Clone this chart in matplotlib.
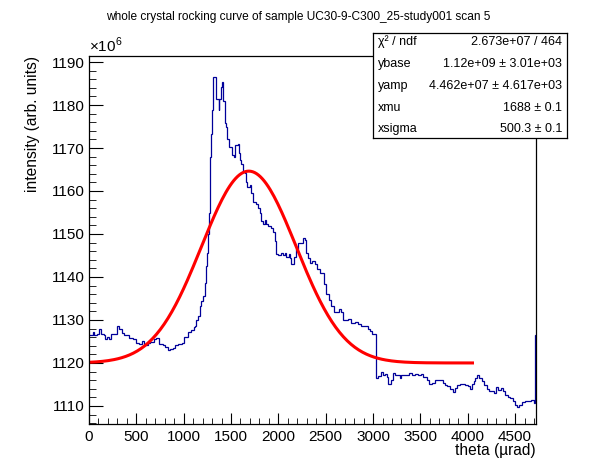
import numpy as np
import matplotlib; matplotlib.use('Agg')
import matplotlib.pyplot as plt
from matplotlib.ticker import MultipleLocator

plt.rcParams['font.family'] = ['Liberation Sans', 'DejaVu Sans']
plt.rcParams['mathtext.fontset'] = 'custom'
plt.rcParams['mathtext.rm'] = 'Liberation Sans'

# histogram: left bin edges (urad) and content (x1e6)
theta = [0, 38, 56, 84, 109, 126, 154, 168, 190, 214, 232, 267, 292, 320, 345, 373, 401, 426,
         461, 496, 531, 556, 584, 619, 648, 683, 707, 743, 778, 806, 831, 859, 884, 908, 944,
         979, 1007, 1042, 1077, 1106, 1116, 1134, 1151, 1169, 1186, 1204, 1222, 1240, 1250,
         1257, 1264, 1275, 1284, 1293, 1299, 1310, 1328, 1338, 1362, 1370, 1376, 1391, 1400,
         1410, 1415, 1433, 1451, 1462, 1476, 1497, 1510, 1532, 1546, 1567, 1574, 1581, 1592,
         1610, 1627, 1645, 1663, 1673, 1698, 1716, 1733, 1760, 1785, 1803, 1821, 1839, 1856,
         1873, 1891, 1920, 1944, 1962, 1980, 2000, 2025, 2045, 2065, 2085, 2110, 2125, 2138,
         2165, 2191, 2210, 2237, 2261, 2285, 2297, 2315, 2332, 2360, 2385, 2410, 2438, 2465,
         2483, 2508, 2535, 2561, 2589, 2615, 2638, 2660, 2684, 2710, 2737, 2770, 2808, 2845,
         2878, 2910, 2942, 2965, 2990, 3026, 3055, 3079, 3100, 3125, 3145, 3160, 3185, 3206,
         3230, 3255, 3283, 3300, 3318, 3350, 3381, 3410, 3442, 3475, 3502, 3529, 3565, 3593,
         3625, 3653, 3688, 3720, 3740, 3759, 3785, 3811, 3840, 3865, 3889, 3920, 3946, 3975,
         4000, 4023, 4041, 4065, 4082, 4100, 4120, 4147, 4175, 4200, 4225, 4252, 4275, 4298,
         4320, 4347, 4370, 4393, 4420, 4446, 4475, 4499, 4517, 4540, 4570, 4600, 4640, 4670,
         4695, 4711]
counts = [1126.6, 1127.2, 1126.6, 1126.8, 1127.9, 1126.8, 1126.4, 1125.6, 1126.0, 1125.6,
          1126.8, 1126.7, 1128.5, 1127.9, 1127.0, 1126.6, 1126.4, 1125.8, 1125.6, 1124.6,
          1124.5, 1125.0, 1124.2, 1124.6, 1124.9, 1125.6, 1125.9, 1124.5, 1124.1, 1123.7,
          1123.1, 1123.3, 1123.5, 1124.2, 1124.5, 1124.7, 1126.0, 1127.3, 1127.6, 1128.3,
          1128.6, 1129.9, 1131.0, 1133.3, 1134.5, 1135.6, 1138.7, 1142.6, 1145.6, 1150.0,
          1154.9, 1168.0, 1171.0, 1173.3, 1178.8, 1186.6, 1186.4, 1181.4, 1181.4, 1178.8,
          1181.4, 1184.1, 1185.3, 1183.5, 1181.0, 1175.7, 1175.0, 1172.2, 1170.3, 1170.3,
          1168.4, 1168.0, 1170.7, 1170.7, 1171.0, 1168.8, 1167.2, 1166.3, 1164.5, 1164.1,
          1162.0, 1161.0, 1161.4, 1159.5, 1157.4, 1157.0, 1156.0, 1154.8, 1153.0, 1152.4,
          1153.2, 1152.4, 1151.8, 1151.4, 1150.4, 1148.3, 1145.3, 1145.0, 1145.6, 1145.0,
          1145.6, 1144.6, 1145.3, 1144.5, 1143.0, 1144.6, 1146.4, 1147.9, 1147.9, 1149.1,
          1148.6, 1145.6, 1144.3, 1143.3, 1143.6, 1143.0, 1141.8, 1141.0, 1141.0, 1138.3,
          1136.0, 1134.6, 1133.3, 1131.8, 1131.8, 1132.6, 1131.8, 1129.9, 1129.9, 1130.3,
          1129.4, 1129.5, 1129.0, 1128.6, 1128.6, 1127.9, 1127.4, 1126.8, 1116.4, 1117.0,
          1117.9, 1117.2, 1117.5, 1116.8, 1115.2, 1116.0, 1117.7, 1117.2, 1117.2, 1116.4,
          1117.2, 1117.3, 1117.2, 1117.7, 1117.2, 1117.5, 1117.2, 1117.5, 1116.7, 1116.0,
          1115.2, 1115.4, 1116.0, 1116.1, 1116.0, 1115.4, 1114.8, 1114.6, 1113.9, 1113.3,
          1114.1, 1114.8, 1115.0, 1115.2, 1114.8, 1114.6, 1113.9, 1115.2, 1115.8, 1116.4,
          1117.2, 1116.6, 1115.8, 1114.8, 1113.9, 1113.4, 1113.4, 1113.0, 1114.3, 1113.8,
          1114.1, 1113.4, 1112.5, 1112.1, 1111.9, 1111.1, 1110.2, 1109.8, 1110.2, 1110.9,
          1111.1, 1111.1, 1111.4, 1110.8, 1126.4]
theta_end = 4740

# gaussian fit parameters from the stats box
ybase, yamp, xmu, xsigma = 1.12e9, 4.462e7, 1688.0, 500.3
fit_lo, fit_hi = 0, 4050
stats = [('\u03c7\u00b2 / ndf', '2.673e+07 / 464'),
         ('ybase', '1.12e+09 \u00b1 3.01e+03'),
         ('yamp', '4.462e+07 \u00b1 4.617e+03'),
         ('xmu', '1688 \u00b1 0.1'),
         ('xsigma', '500.3 \u00b1 0.1')]

W, H = 596, 472
fig = plt.figure(figsize=(W/100, H/100), dpi=100)
ax = fig.add_axes([89/W, 1-424/H, (536-89)/W, (424-56)/H])

edges = np.array(theta + [theta_end], dtype=float)
ax.stairs(np.array(counts), edges, baseline=None, color='#000099', lw=0.9)

xf = np.linspace(fit_lo, fit_hi, 200)
yf = (ybase + yamp*np.exp(-0.5*((xf - xmu)/xsigma)**2)) / 1e6
ax.plot(xf, yf, color='#ff0000', lw=2.2)

ax.set_xlim(0, 4721)
ax.set_ylim(1105.8, 1191.4)
ax.xaxis.set_major_locator(MultipleLocator(500))
ax.xaxis.set_minor_locator(MultipleLocator(100))
ax.yaxis.set_major_locator(MultipleLocator(10))
ax.yaxis.set_minor_locator(MultipleLocator(2))
ax.tick_params(axis='both', which='both', direction='in', top=False, right=False, labelsize=11)
ax.tick_params(axis='x', which='major', length=8, pad=4)
ax.tick_params(axis='x', which='minor', length=4)
ax.tick_params(axis='y', which='major', length=10, pad=3)
ax.tick_params(axis='y', which='minor', length=5)
for s in ax.spines.values():
    s.set_linewidth(0.9)

fig.text(89/W, 1-55/H, r'$\times10^{6}$', fontsize=11, ha='left', va='bottom')
fig.text(298/W, 1-17/H, 'whole crystal rocking curve of sample UC30-9-C300_25-study001 scan 5',
         fontsize=8.6, ha='center', va='center')
fig.text(33/W, 1-56/H, 'intensity (arb. units)', fontsize=11.2, rotation=90, ha='center', va='top')
fig.text(536/W, 1-450/H, 'theta (\u00b5rad)', fontsize=11.2, ha='right', va='center')

# stats box
bx0, by0, bx1, by1 = 373, 33, 567, 138
box = fig.add_axes([bx0/W, 1-by1/H, (bx1-bx0)/W, (by1-by0)/H])
box.set_xticks([]); box.set_yticks([])
box.set_facecolor('white')
for s in box.spines.values():
    s.set_linewidth(0.9)
rows_y = [42, 64, 86, 108, 129]
for (lab, val), ry in zip(stats, rows_y):
    fig.text(378/W, 1-ry/H, lab, fontsize=9, ha='left', va='center')
    fig.text(562/W, 1-ry/H, val, fontsize=9, ha='right', va='center')

fig.savefig('out.png', dpi=100)
